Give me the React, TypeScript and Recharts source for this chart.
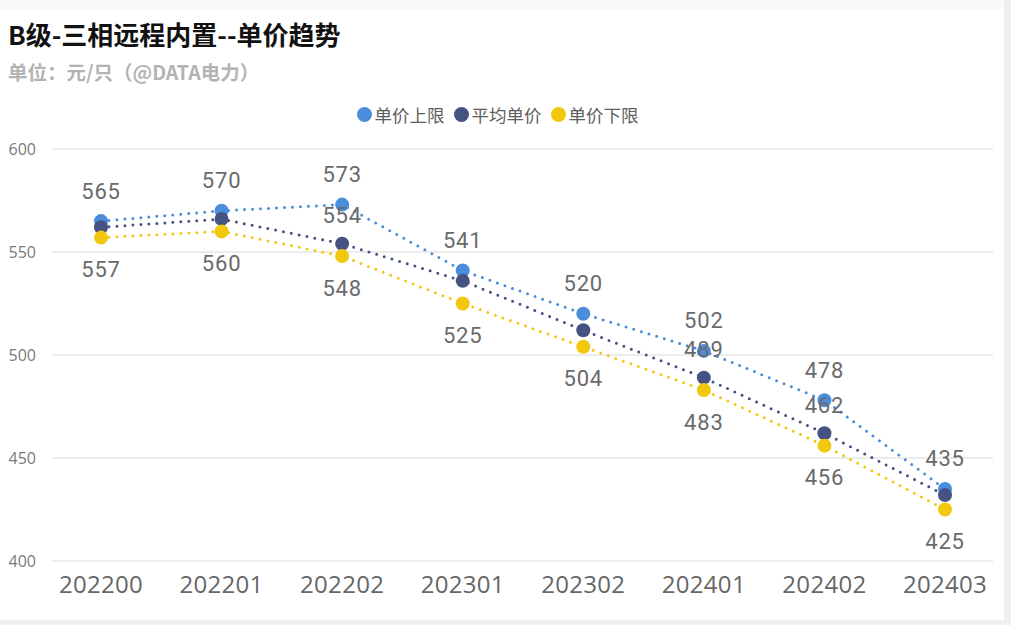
import { LineChart, Line, XAxis, YAxis, CartesianGrid, Legend, LabelList } from "recharts";

// B级-三相远程内置 单价趋势 (元/只)
const periods = ["202200", "202201", "202202", "202301", "202302", "202401", "202402", "202403"];
const upperPrice = [565, 570, 573, 541, 520, 502, 478, 435];
const avgPrice = [562, 566, 554, 536, 512, 489, 462, 432];
const lowerPrice = [557, 560, 548, 525, 504, 483, 456, 425];
// Power BI hides overlapping labels -- only these avg labels survive
const avgLabelShown = [false, false, true, false, false, true, true, false];
const yTicks = [400, 450, 500, 550, 600];

const COLORS = {
  upper: "#4a8ddc",
  avg: "#455382",
  lower: "#f2c80f",
};

const series = [
  { key: "upper", name: "单价上限", color: COLORS.upper },
  { key: "avg", name: "平均单价", color: COLORS.avg },
  { key: "lower", name: "单价下限", color: COLORS.lower },
];

const data = periods.map((p, i) => ({
  period: p,
  upper: upperPrice[i],
  avg: avgPrice[i],
  lower: lowerPrice[i],
}));

const LABEL_FONT = "Roboto, 'DejaVu Sans', sans-serif";
const AXIS_FONT = "'Open Sans', 'Noto Sans', sans-serif";
const CJK_FONT = "'Noto Sans CJK SC', 'Noto Sans', sans-serif";

function valueLabel(dy: number, onlyIdx?: boolean[]) {
  return (props: any) => {
    const { x, y, value, index } = props;
    if (onlyIdx && !onlyIdx[index]) return null;
    return (
      <text
        x={x}
        y={y + dy}
        textAnchor="middle"
        dominantBaseline="central"
        fill="#6a6a6a"
        fontFamily={LABEL_FONT}
        fontSize={22}
        letterSpacing={0.8}
      >
        {value}
      </text>
    );
  };
}

// keep the series order (recharts would sort the payload by name)
function LegendRow() {
  return (
    <div style={{ display: "flex", justifyContent: "center", alignItems: "center", fontFamily: CJK_FONT, fontSize: 17.5, color: "#605e5c" }}>
      {series.map((s) => (
        <div key={s.key} style={{ display: "flex", alignItems: "center", marginRight: 9 }}>
          <span style={{ width: 15, height: 15, borderRadius: "50%", background: s.color, display: "inline-block", marginRight: 3 }} />
          <span>{s.name}</span>
        </div>
      ))}
    </div>
  );
}

export default function App() {
  return (
    <div style={{ position: "absolute", left: 0, top: 0, width: 1011, height: 625, background: "#f0f0f0", overflow: "hidden" }}>
      <div style={{ position: "absolute", left: 0, top: 0, width: 1004, height: 10, background: "#fafafa" }} />
      <div style={{ position: "absolute", left: 0, top: 10, width: 1004, height: 610, background: "#ffffff" }}>
        <div style={{ position: "absolute", left: 8, top: 5, fontFamily: CJK_FONT, fontWeight: 700, fontSize: 26, color: "#111", whiteSpace: "nowrap" }}>
          B级-三相远程内置--单价趋势
        </div>
        <div style={{ position: "absolute", left: 8, top: 47, fontFamily: CJK_FONT, fontWeight: 700, fontSize: 19.5, color: "#b3b3b3", whiteSpace: "nowrap" }}>
          单位：元/只（@DATA电力）
        </div>
        <LineChart width={1004} height={610} data={data} margin={{ top: 139, right: 11, bottom: 0, left: 0 }}>
          <CartesianGrid vertical={false} stroke="#e6e6e6" strokeWidth={1.5} />
          <XAxis
            dataKey="period"
            axisLine={false}
            tickLine={false}
            tickSize={0}
            tickMargin={15}
            height={59}
            padding={{ left: 49, right: 48 }}
            tick={{ fill: "#666666", fontSize: 24, fontFamily: AXIS_FONT, letterSpacing: 0.3 }}
          />
          <YAxis
            domain={[400, 600]}
            ticks={yTicks}
            width={52}
            axisLine={false}
            tickLine={false}
            tickSize={0}
            tickMargin={16}
            tick={{ fill: "#7a7a7a", fontSize: 16, fontFamily: AXIS_FONT }}
          />
          <Legend
            layout="horizontal"
            verticalAlign="middle"
            align="center"
            wrapperStyle={{ top: 92, left: 0, width: 1004 }}
            content={<LegendRow />}
          />
          {series.map((s) => (
            <Line
              key={s.key}
              dataKey={s.key}
              name={s.name}
              stroke={s.color}
              strokeWidth={3}
              strokeDasharray="0 8"
              strokeLinecap="round"
              dot={{ r: 7, fill: s.color, stroke: s.color, strokeWidth: 0 }}
              activeDot={false}
              isAnimationActive={false}
            >
              <LabelList
                dataKey={s.key}
                content={
                  s.key === "upper"
                    ? valueLabel(-30)
                    : s.key === "lower"
                    ? valueLabel(32)
                    : valueLabel(-28, avgLabelShown)
                }
              />
            </Line>
          ))}
        </LineChart>
      </div>
    </div>
  );
}
